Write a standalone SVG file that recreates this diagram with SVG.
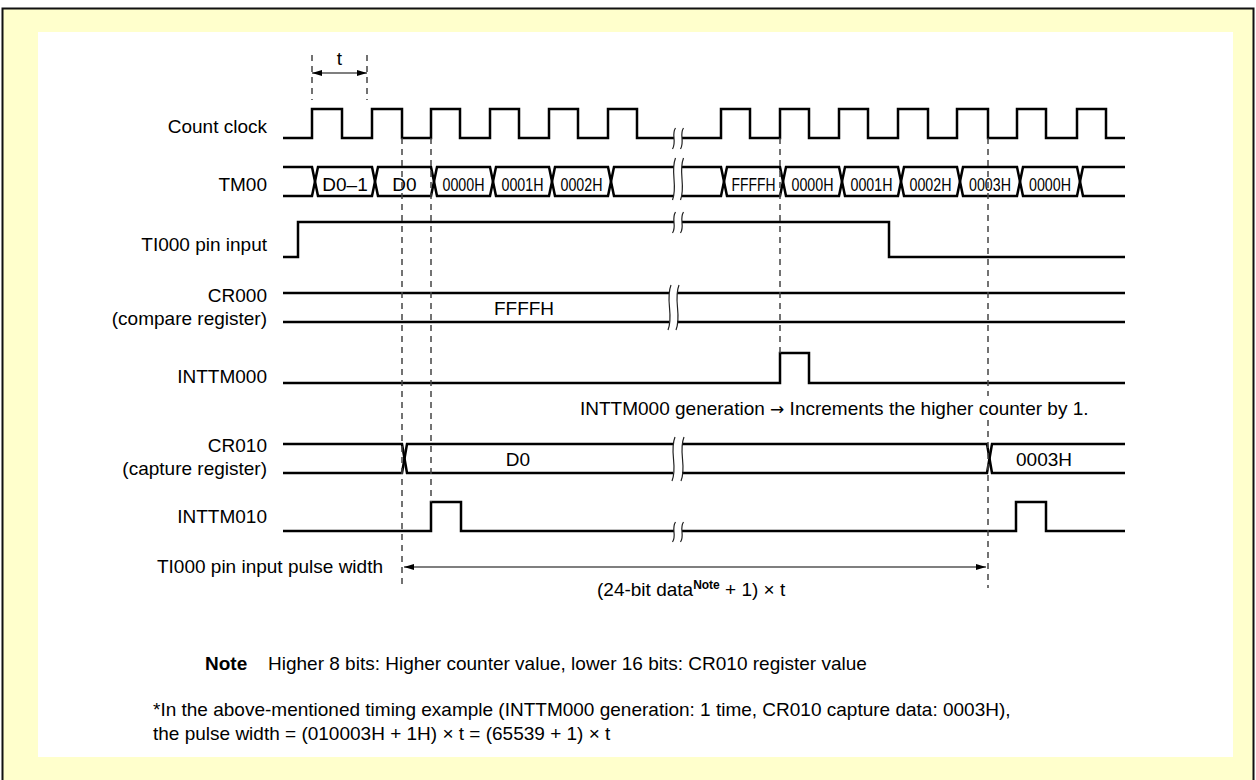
<svg xmlns="http://www.w3.org/2000/svg" width="1256" height="780" viewBox="0 0 1256 780">
<style>
text{font-family:"Liberation Sans",Arial,sans-serif;font-size:19px;fill:#000}
.lbl{text-anchor:end}
.mid{text-anchor:middle}
.sig{fill:none;stroke:#000;stroke-width:2.5;stroke-linejoin:miter}
.dash{fill:none;stroke:#444;stroke-width:1.5;stroke-dasharray:6 5}
.brk{fill:none;stroke:#222;stroke-width:1.2}
.dim{fill:none;stroke:#000;stroke-width:1.2}
.arr{font-family:"DejaVu Sans",sans-serif;font-size:17px}
</style>
<defs>
<marker id="ah" viewBox="0 0 10 6" refX="10" refY="3" markerWidth="10" markerHeight="6" markerUnits="userSpaceOnUse" orient="auto-start-reverse">
<path d="M0,0 L10,3 L0,6 Z" fill="#000"/>
</marker>
</defs>
<rect x="2.5" y="8.5" width="1251" height="800" fill="#FFFFCC" stroke="#111" stroke-width="2"/>
<rect x="38" y="32" width="1195" height="725" fill="#FFFFFF"/>

<g id="labels">
<text class="lbl" x="267" y="133">Count clock</text>
<text class="lbl" x="267" y="191">TM00</text>
<text class="lbl" x="267" y="251">TI000 pin input</text>
<text class="lbl" x="267" y="302">CR000</text>
<text class="lbl" x="267" y="325">(compare register)</text>
<text class="lbl" x="267" y="383">INTTM000</text>
<text class="lbl" x="267" y="452">CR010</text>
<text class="lbl" x="267" y="475">(capture register)</text>
<text class="lbl" x="267" y="523">INTTM010</text>
<text class="lbl" x="383" y="573">TI000 pin input pulse width</text>
</g>

<g id="t-dimension">
<path class="dash" d="M312,55 V100 M367,55 V100"/>
<line class="dim" x1="312" y1="73" x2="367" y2="73" marker-start="url(#ah)" marker-end="url(#ah)"/>
<text class="mid" x="339.5" y="65">t</text>
</g>

<g id="count-clock">
<path class="sig" d="M283,138 H312 V109 H342 V138 H372 V109 H402 V138 H431 V109 H460 V138 H490 V109 H519 V138 H549 V109 H578 V138 H608 V109 H637 V138 H674"/>
<path class="sig" d="M682,138 H721 V109 H750 V138 H780 V109 H809 V138 H839 V109 H868 V138 H898 V109 H928 V138 H957 V109 H988 V138 H1017 V109 H1046 V138 H1077 V109 H1106 V138 H1125"/>
<path class="brk" d="M675.5,128 C671,135 677,141 672.5,149 M683.5,128 C679,135 685,141 680.5,149"/>
</g>

<g id="tm00">
<path class="sig" d="M283,167 H312 L315,181.5 L312,196 H283"/>
<path class="sig" d="M315,181.5 L318,167 H372 L375,181.5 L372,196 H318 Z"/>
<path class="sig" d="M375,181.5 L378,167 H431 L434,181.5 L431,196 H378 Z"/>
<path class="sig" d="M434,181.5 L437,167 H490 L493,181.5 L490,196 H437 Z"/>
<path class="sig" d="M493,181.5 L496,167 H549 L552,181.5 L549,196 H496 Z"/>
<path class="sig" d="M552,181.5 L555,167 H608 L611,181.5 L608,196 H555 Z"/>
<path class="sig" d="M674,167 H614 L611,181.5 L614,196 H674"/>
<path class="sig" d="M682,167 H721 L724,181.5 L721,196 H682"/>
<path class="sig" d="M724,181.5 L727,167 H780 L783,181.5 L780,196 H727 Z"/>
<path class="sig" d="M783,181.5 L786,167 H839 L842,181.5 L839,196 H786 Z"/>
<path class="sig" d="M842,181.5 L845,167 H898 L901,181.5 L898,196 H845 Z"/>
<path class="sig" d="M901,181.5 L904,167 H957 L960,181.5 L957,196 H904 Z"/>
<path class="sig" d="M960,181.5 L963,167 H1017 L1020,181.5 L1017,196 H963 Z"/>
<path class="sig" d="M1020,181.5 L1023,167 H1077 L1080,181.5 L1077,196 H1023 Z"/>
<path class="sig" d="M1125,167 H1083 L1080,181.5 L1083,196 H1125"/>
<path class="brk" d="M675.5,158 C670,172 678,186 672.5,200 M683.5,158 C678,172 686,186 680.5,200"/>
<text class="mid" x="345" y="191">D0–1</text>
<text class="mid" x="404.5" y="191">D0</text>
<text class="mid" x="463.5" y="191" textLength="42" lengthAdjust="spacingAndGlyphs">0000H</text>
<text class="mid" x="522.5" y="191" textLength="42" lengthAdjust="spacingAndGlyphs">0001H</text>
<text class="mid" x="581.5" y="191" textLength="42" lengthAdjust="spacingAndGlyphs">0002H</text>
<text class="mid" x="753.5" y="191" textLength="44" lengthAdjust="spacingAndGlyphs">FFFFH</text>
<text class="mid" x="812.5" y="191" textLength="42" lengthAdjust="spacingAndGlyphs">0000H</text>
<text class="mid" x="871.5" y="191" textLength="42" lengthAdjust="spacingAndGlyphs">0001H</text>
<text class="mid" x="930.5" y="191" textLength="42" lengthAdjust="spacingAndGlyphs">0002H</text>
<text class="mid" x="990" y="191" textLength="42" lengthAdjust="spacingAndGlyphs">0003H</text>
<text class="mid" x="1050" y="191" textLength="42" lengthAdjust="spacingAndGlyphs">0000H</text>
</g>

<g id="ti000">
<path class="sig" d="M283,257 H298 V222 H674"/>
<path class="sig" d="M682,222 H889 V257 H1125"/>
<path class="brk" d="M675.5,212 C671,219 677,226 672.5,233 M683.5,212 C679,219 685,226 680.5,233"/>
</g>

<g id="cr000">
<path class="sig" d="M283,293 H669 M283,322 H669 M677,293 H1125 M677,322 H1125"/>
<path class="brk" d="M671,285 C665,300 674,315 668,330 M679,285 C673,300 682,315 676,330"/>
<text class="mid" x="524" y="315">FFFFH</text>
</g>

<g id="inttm000">
<path class="sig" d="M283,383 H780 V353 H809 V383 H1125"/>
<text x="580" y="415">INTTM000 generation <tspan class="arr">→</tspan> Increments the higher counter by 1.</text>
</g>

<g id="cr010">
<path class="sig" d="M283,444 H402 L404.5,458.5 L402,473 H283"/>
<path class="sig" d="M673,444 H407 L404.5,458.5 L407,473 H673"/>
<path class="sig" d="M682,444 H987 L989.5,458.5 L987,473 H682"/>
<path class="sig" d="M1125,444 H992 L989.5,458.5 L992,473 H1125"/>
<path class="brk" d="M675,437 C669,452 678,466 672,481 M684,437 C678,452 687,466 681,481"/>
<text class="mid" x="518" y="466">D0</text>
<text class="mid" x="1044" y="466">0003H</text>
</g>

<g id="inttm010">
<path class="sig" d="M283,531 H431 V502 H461 V531 H674"/>
<path class="sig" d="M682,531 H1016 V502 H1046 V531 H1125"/>
<path class="brk" d="M675.5,522 C671,529 677,535 672.5,542 M683.5,522 C679,529 685,535 680.5,542"/>
</g>

<g id="connectors">
<path class="dash" d="M402,138 V588 M431,138 V502 M780,138 V353 M988,138 V396 M988,420 V588"/>
<line class="dim" x1="404" y1="567" x2="986" y2="567" marker-start="url(#ah)" marker-end="url(#ah)"/>
</g>

<g id="pulse-width-label">
<text x="597" y="596">(24-bit data<tspan font-size="12" font-weight="bold" dy="-7">Note</tspan><tspan dy="7"> + 1) × t</tspan></text>
</g>

<g id="notes">
<text x="205" y="670" font-weight="bold">Note</text>
<text x="268" y="670">Higher 8 bits: Higher counter value, lower 16 bits: CR010 register value</text>
<text x="153" y="716">*In the above-mentioned timing example (INTTM000 generation: 1 time, CR010 capture data: 0003H),</text>
<text x="153" y="740"> the pulse width = (010003H + 1H) × t = (65539 + 1) × t</text>
</g>
</svg>
